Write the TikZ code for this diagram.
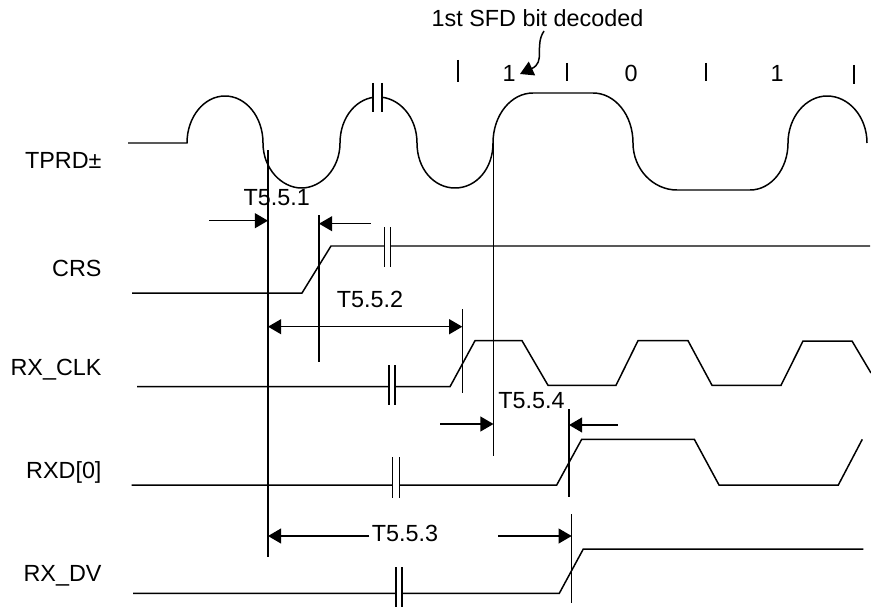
\documentclass[tikz,border=0pt]{standalone}
\usepackage{fontspec}
\setmainfont{Liberation Sans}
\usetikzlibrary{arrows.meta}

\begin{document}
\begin{tikzpicture}[x=0.02cm, y=-0.02cm, line width=0.85pt,
  font=\fontsize{13.3}{15}\selectfont,
  sig/.style={anchor=base east, inner sep=1pt},
  tlbl/.style={anchor=base, inner sep=1pt},
  dim/.style={-{Triangle[length=7.5pt,width=8.5pt]}},
  dimboth/.style={{Triangle[length=7.5pt,width=8.5pt]}-{Triangle[length=7.5pt,width=8.5pt]}}]
  % Units are pixels of the 871x608 frame, y grows downwards. The vertical markers are
  % named so that every timing arrow ends on one of them.
  \useasboundingbox (0,0) rectangle (871,608);

  % signal names
  \node[sig] (tprd) at (104,168) {TPRD±};
  \node[sig] (crs) at (104,276.7) {CRS};
  \node[sig] (rxclk) at (104,375) {RX\_CLK};
  \node[sig] (rxd) at (104,478) {RXD[0]};
  \node[sig] (rxdv) at (104,581.7) {RX\_DV};

  % bit cells on top of TPRD
  \node[tlbl] (sfd) at (537.5,27) {1st SFD bit decoded};
  \node[tlbl] (bit1) at (509,82) {1};
  \node[tlbl] (bit0) at (631,82) {0};
  \node[tlbl] (bit2) at (777,82) {1};
  \draw (458,60) -- (458,82);
  \draw (567,63) -- (567,81);
  \draw (706,63) -- (706,81);
  \draw (854,65) -- (854,84);
  \coordinate (sfdarr) at (544,31);
  \draw[-{Triangle[length=7.5pt,width=8.5pt]}] (sfdarr) .. controls (534,46) and (546,62) .. (520,74);

  % TPRD
  \draw (128,143) -- (187,143)
    .. controls (187,117) and (204,96) .. (225,96)
    .. controls (246,96) and (263,117) .. (263,143)
    .. controls (263,169) and (282,188) .. (301.5,188)
    .. controls (321,188) and (340,169) .. (340,143)
    .. controls (340,117) and (357,97) .. (378,97)
    .. controls (399,97) and (417,117) .. (417,143)
    .. controls (417,169) and (434,188) .. (455,188)
    .. controls (476,188) and (493,169) .. (493,143)
    .. controls (493,115) and (511,93) .. (533,93)
    -- (593,93)
    .. controls (615,93) and (633,115) .. (633,143)
    .. controls (633,169) and (653,190) .. (677,190)
    -- (750,190)
    .. controls (771,190) and (788,169) .. (788,143)
    .. controls (788,117) and (806,96) .. (827,96)
    .. controls (849,96) and (867,117) .. (867,143);
  \fill[white] (373.5,80) rectangle (381.5,115);
  \draw (373,83) -- (373,112);
  \draw (382,83) -- (382,112);

  % CRS
  \draw (132,293) -- (302,293) -- (331,246) -- (870,246);
  \fill[white] (384.5,230) rectangle (390.5,262);
  \draw (384.3,227) -- (384.3,267);
  \draw (390.7,227) -- (390.7,267);

  % RX_CLK
  \draw (137,386.7) -- (450,386.7) -- (475,340.7) -- (522,340.7) -- (548,385.3)
    -- (616,385.3) -- (638,340.7) -- (688,340.7) -- (712,385.3) -- (781,385.3)
    -- (803,341) -- (852,341) -- (871,373);
  \fill[white] (389.3,370) rectangle (394.7,400);
  \draw (389,365) -- (389,405);
  \draw (395,365) -- (395,405);

  % RXD[0]
  \draw (131.7,485) -- (556.7,485) -- (581.7,439.3) -- (694.3,439.3) -- (719,485)
    -- (838.3,485) -- (862.3,439.3);
  \fill[white] (393,460) rectangle (399,495);
  \draw (392.7,457) -- (392.7,498);
  \draw (399.3,457) -- (399.3,498);

  % RX_DV
  \draw (133,593.3) -- (559.3,593.3) -- (583.3,549) -- (863.3,549);
  \fill[white] (396.3,570) rectangle (401.7,604);
  \draw (396,567) -- (396,607);
  \draw (402,567) -- (402,607);

  % vertical markers
  \coordinate (m1top) at (268,150);  \coordinate (m1bot) at (268,557);
  \coordinate (m2top) at (319,215);  \coordinate (m2bot) at (319,362);
  \coordinate (m3top) at (462.3,309); \coordinate (m3bot) at (462.3,393);
  \coordinate (m4top) at (493.5,143); \coordinate (m4bot) at (493.5,456);
  \coordinate (m5top) at (569,409);  \coordinate (m5bot) at (569,497);
  \coordinate (m6top) at (571.7,514); \coordinate (m6bot) at (571.7,603);
  \draw (m1top) -- (m1bot);
  \draw (m2top) -- (m2bot);
  \draw (m3top) -- (m3bot);
  \draw (m4top) -- (m4bot);
  \draw (m5top) -- (m5bot);
  \draw (m6top) -- (m6bot);

  % T5.5.1
  \node[tlbl] (t551) at (276.7,205) {T5.5.1};
  \coordinate (a1) at (209,220.7);
  \coordinate (a2) at (370.7,223.7);
  \draw[dim] (a1) -- (a1 -| m1top);
  \draw[dim] (a2) -- (a2 -| m2top);

  % T5.5.2
  \node[tlbl] (t552) at (370,307.3) {T5.5.2};
  \coordinate (b1) at (268,326.7);
  \draw[dimboth] (b1) -- (b1 -| m3top);

  % T5.5.4
  \node[tlbl] (t554) at (531.5,408.3) {T5.5.4};
  \coordinate (c1) at (440,424);
  \coordinate (c2) at (617.7,425);
  \draw[dim] (c1) -- (c1 -| m4top);
  \draw[dim] (c2) -- (c2 -| m5top);

  % T5.5.3
  \node[tlbl] (t553) at (405,541.7) {T5.5.3};
  \coordinate (d1) at (498.3,536);
  \draw[dim] (t553.west |- d1) -- (d1 -| m1top);
  \draw[dim] (d1) -- (d1 -| m6top);
\end{tikzpicture}
\end{document}
